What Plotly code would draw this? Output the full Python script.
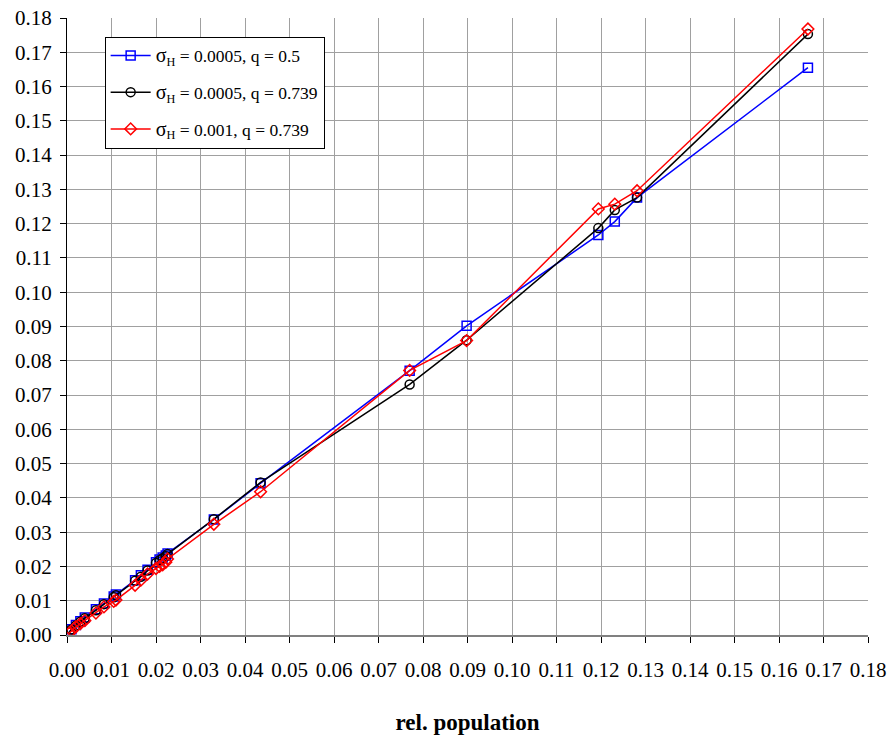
import plotly.graph_objects as go

# Shared relative population values (x)
rel_population = [0.0005, 0.0010, 0.0020, 0.0030, 0.0040, 0.0065, 0.0083, 0.0105, 0.0110,
                  0.0153, 0.0166, 0.0181, 0.0200, 0.0208, 0.0215, 0.0222, 0.0226,
                  0.0330, 0.0435, 0.0770, 0.0898, 0.1194, 0.1231, 0.1281, 0.1665]

# Series values (y)
s_0005_q05 = [0.0009, 0.0017, 0.0029, 0.0040, 0.0051, 0.0075, 0.0092, 0.0112, 0.0118,
              0.0160, 0.0174, 0.0190, 0.0212, 0.0220, 0.0226, 0.0232, 0.0238,
              0.0337, 0.0443, 0.0771, 0.0902, 0.1167, 0.1206, 0.1276, 0.1655]
s_0005_q0739 = [0.0008, 0.0016, 0.0028, 0.0039, 0.0049, 0.0072, 0.0090, 0.0110, 0.0116,
                0.0158, 0.0170, 0.0188, 0.0210, 0.0218, 0.0224, 0.0230, 0.0236,
                0.0338, 0.0445, 0.0731, 0.0860, 0.1187, 0.1240, 0.1276, 0.1753]
s_001_q0739 = [0.0005, 0.0012, 0.0024, 0.0033, 0.0042, 0.0064, 0.0082, 0.0098, 0.0102,
               0.0145, 0.0160, 0.0178, 0.0194, 0.0200, 0.0205, 0.0212, 0.0222,
               0.0323, 0.0418, 0.0772, 0.0859, 0.1243, 0.1257, 0.1296, 0.1768]

names = ["<span style='font-size:20px'>σ</span><sub>H</sub> = 0.0005, q = 0.5",
         "<span style='font-size:20px'>σ</span><sub>H</sub> = 0.0005, q = 0.739",
         "<span style='font-size:20px'>σ</span><sub>H</sub> = 0.001, q = 0.739"]
colors = ["#0000ff", "#000000", "#ff0000"]
symbols = ["square-open", "circle-open", "diamond-open"]

fig = go.Figure()
for i, (ys, nm, c, sym) in enumerate(zip([s_0005_q05, s_0005_q0739, s_001_q0739], names, colors, symbols)):
    fig.add_trace(go.Scatter(
        x=rel_population, y=ys, name=nm, mode="lines+markers",
        legendgroup=f"g{i}",
        line=dict(color=c, width=1.5),
        marker=dict(symbol=sym, size=9, color=c, line=dict(color=c, width=1.5)),
    ))

font_family = "Liberation Serif"
fig.update_layout(
    width=895, height=740,
    margin=dict(l=67, r=27, t=18, b=105),
    paper_bgcolor="white", plot_bgcolor="white",
    font=dict(family=font_family, size=21, color="black"),
    showlegend=True,
    legend=dict(x=0.047, y=0.97, xanchor="left", yanchor="top",
                bgcolor="white", bordercolor="black", borderwidth=1,
                tracegroupgap=11, itemwidth=40,
                font=dict(family=font_family, size=17.5, color="black")),
)
fig.update_xaxes(
    range=[0, 0.18], dtick=0.01, tick0=0, tickformat=".2f",
    showgrid=True, gridcolor="#a0a0a0", gridwidth=1,
    showline=True, linecolor="#808080", linewidth=2,
    ticks="outside", ticklen=6, tickcolor="black",
    ticklabelstandoff=9, automargin=False,
    zeroline=False,
    title=dict(text="<b>rel. population</b>", font=dict(family=font_family, size=23), standoff=33),
)
fig.update_yaxes(
    range=[0, 0.18], dtick=0.01, tick0=0, tickformat=".2f",
    showgrid=True, gridcolor="#a0a0a0", gridwidth=1,
    showline=True, linecolor="black", linewidth=1,
    ticks="outside", ticklen=6, tickcolor="black",
    ticklabelstandoff=4, automargin=False,
    zeroline=False,
)

fig.write_html("out.html")
